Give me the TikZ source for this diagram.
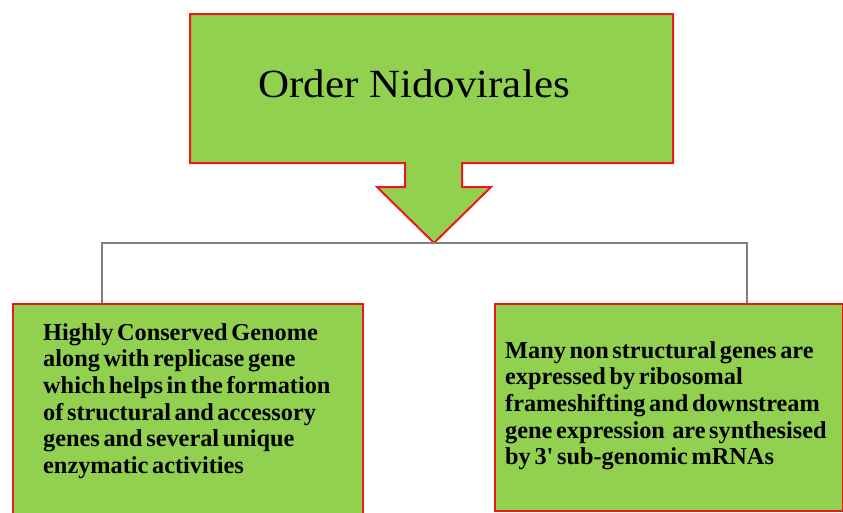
\documentclass[tikz,border=0pt]{standalone}
\usepackage{fontspec}
\setmainfont{Liberation Serif}
\newfontfamily\titlefont[FakeStretch=1.075]{Liberation Serif}
\newfontfamily\boxfont[WordSpace=0.6]{Liberation Serif}
\definecolor{boxgreen}{RGB}{146,208,80}
\definecolor{boxred}{RGB}{238,24,24}
\definecolor{linegray}{RGB}{128,128,128}
\tikzset{
  greenbox/.style={fill=boxgreen, draw=boxred, line width=2pt},
  boxtext/.style={anchor=north west, inner sep=0pt, align=left, text=black,
    font=\boxfont\bfseries\fontsize{24.3}{26.7}\selectfont},
  linkline/.style={draw=linegray, line width=1.5pt}
}
\begin{document}
\begin{tikzpicture}[x=1pt,y=-1pt]
\useasboundingbox (0,0) rectangle (843,512);
\clip (0,0) rectangle (843,512);
% top callout box with down arrow
\draw[greenbox] (190,14) -- (673,14) -- (673,163) -- (462,163) -- (462,187)
  -- (491,187) -- (434,243) -- (377,187) -- (405,187) -- (405,163)
  -- (190,163) -- cycle;
\node[anchor=base, inner sep=0pt, font=\titlefont\fontsize{40}{48}\selectfont] (title) at (414,97) {Order Nidovirales};
\coordinate (tip) at (434,243);
% lower boxes
\node[greenbox, rectangle, anchor=north west, minimum width=350pt, minimum height=215pt, inner sep=0pt] (left) at (12,303) {};
\node[greenbox, rectangle, anchor=north west, minimum width=348pt, minimum height=207pt, inner sep=0pt] (right) at (494,303) {};
% connector
\coordinate (lj) at (102,303);
\coordinate (rj) at (747,303);
\draw[linkline] (left.north -| lj) |- (tip) -| (right.north -| rj);
% texts
\node[boxtext] (lt) at (43,323) {Highly Conserved Genome\\along with replicase gene\\which helps in the formation\\of structural and accessory\\genes and several unique\\enzymatic activities};
\node[boxtext] (rt) at (505,341) {Many non structural genes are\\expressed by ribosomal\\frameshifting and downstream\\gene expression\ \ are synthesised\\by 3' sub-genomic mRNAs};
\end{tikzpicture}
\end{document}
